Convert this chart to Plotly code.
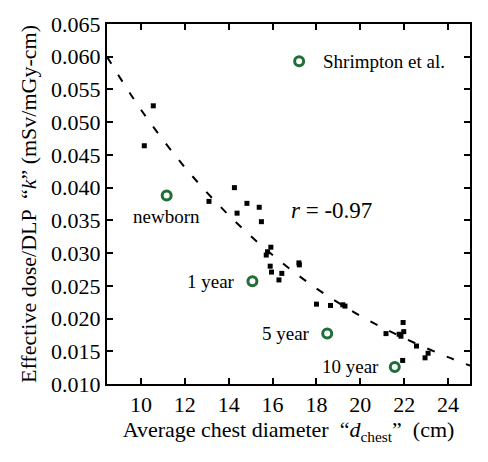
import plotly.graph_objects as go

# Black squares: measured data
meas_x = [10.56, 10.15, 14.26, 13.1, 14.38, 14.83, 15.39, 15.49, 15.92, 15.77, 15.71,
          15.89, 15.95, 16.42, 16.29, 17.2, 17.22, 18.0, 18.64, 19.2, 19.3,
          21.17, 21.95, 21.98, 21.77, 21.85, 21.93, 22.56, 23.09, 22.95]
meas_y = [0.0525, 0.0464, 0.0400, 0.0379, 0.0361, 0.0376, 0.0370, 0.0348, 0.0309, 0.0302, 0.0297,
          0.0280, 0.0271, 0.0269, 0.0259, 0.0285, 0.0282, 0.0222, 0.0220, 0.0221, 0.0219,
          0.0177, 0.0194, 0.0180, 0.0176, 0.0173, 0.0136, 0.0158, 0.0147, 0.0140]

# Green circles: Shrimpton et al.
shr_x = [17.21, 11.17, 15.08, 18.49, 21.57]
shr_y = [0.0593, 0.0388, 0.0257, 0.0177, 0.0126]
shr_labels = ["Shrimpton et al.", "newborn", "1 year", "5 year", "10 year"]

# Dashed fit curve
fit_x = [8.45, 10, 12, 14, 16, 18, 20, 22, 24, 25]
fit_y = [0.0600, 0.0519, 0.0431, 0.0358, 0.0297, 0.0246, 0.0204, 0.0170, 0.0141, 0.0128]

x_ticks = [10, 12, 14, 16, 18, 20, 22, 24]
y_ticks = [0.010, 0.015, 0.020, 0.025, 0.030, 0.035, 0.040, 0.045, 0.050, 0.055, 0.060, 0.065]

FONT = "Liberation Serif"
GREEN = "#1f6e36"

fig = go.Figure()
fig.add_trace(go.Scatter(x=fit_x, y=fit_y, mode="lines", line=dict(color="black", width=2, dash="8px,13px"),
                         line_shape="spline", showlegend=False, hoverinfo="skip"))
fig.add_trace(go.Scatter(x=meas_x, y=meas_y, mode="markers",
                         marker=dict(symbol="square", size=5, color="black"), showlegend=False))
fig.add_trace(go.Scatter(x=shr_x, y=shr_y, mode="markers",
                         marker=dict(symbol="circle-open", size=9, color=GREEN, line=dict(width=3, color=GREEN)),
                         showlegend=False))

ann_specs = [
    dict(xanchor="left", yanchor="middle", xshift=22, yshift=0),
    dict(xanchor="center", yanchor="middle", xshift=0, yshift=-21),
    dict(xanchor="right", yanchor="middle", xshift=-15, yshift=0),
    dict(xanchor="right", yanchor="middle", xshift=-15, yshift=0),
    dict(xanchor="right", yanchor="middle", xshift=-14, yshift=0),
]
for xv, yv, lab, spec in zip(shr_x, shr_y, shr_labels, ann_specs):
    fig.add_annotation(x=xv, y=yv, text=lab, showarrow=False,
                       font=dict(family=FONT, size=19, color="black"), **spec)

fig.add_annotation(x=16.73, y=0.0365, text="<i>r</i> = -0.97", showarrow=False, xanchor="left",
                   yanchor="middle", font=dict(family=FONT, size=23, color="black"))

axis_common = dict(showline=True, linewidth=2, linecolor="black", mirror="ticks", ticks="inside",
                   ticklen=6, tickwidth=2, tickcolor="black", showgrid=False, zeroline=False,
                   automargin=False, tickfont=dict(family=FONT, size=22, color="black"))

fig.update_xaxes(range=[8.45, 25.0], tickvals=x_ticks,
                 title=dict(text="Average chest diameter  “<i>d</i><sub>chest</sub>”  (cm)",
                            font=dict(family=FONT, size=22, color="black"), standoff=4),
                 **axis_common)
fig.update_yaxes(range=[0.010, 0.065], tickvals=y_ticks, tickformat=".3f",
                 title=dict(text="Effective dose/DLP  “<i>k</i>” (mSv/mGy-cm)",
                            font=dict(family=FONT, size=22, color="black"), standoff=8),
                 **axis_common)

# page body has an 8px default margin, so the figure is offset by 8px
fig.update_layout(width=480, height=454, margin=dict(l=99, r=18, t=16, b=78),
                  plot_bgcolor="white", paper_bgcolor="white")

fig.write_html("out.html")
